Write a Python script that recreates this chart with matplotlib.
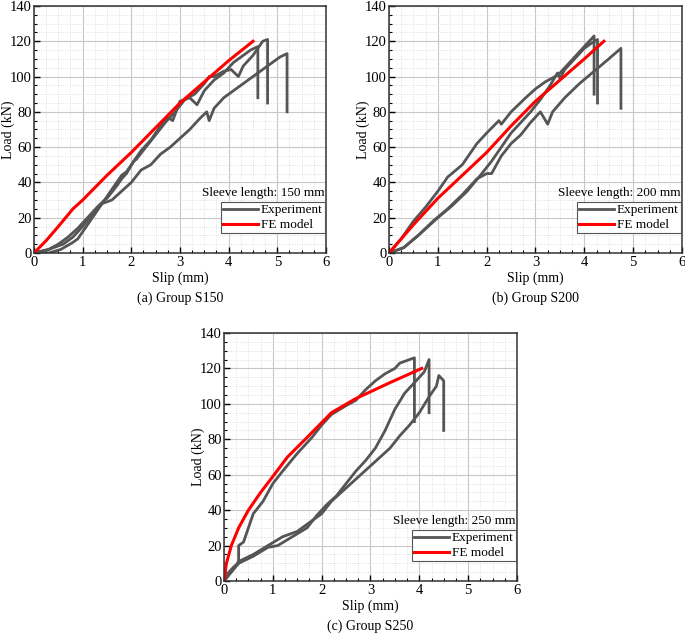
import numpy as np
import matplotlib.pyplot as plt
from matplotlib.ticker import MultipleLocator

plt.rcParams['font.family'] = ['Liberation Serif', 'DejaVu Serif']
plt.rcParams['font.size'] = 9

# ---- Group S150 ----
a_fe_x = [0, 0.25, 0.5, 0.8, 1.0, 1.5, 2.0, 2.5, 3.0, 3.5, 4.0, 4.5]
a_fe_y = [0, 7, 15, 25, 30, 44, 57, 71, 85, 97, 109, 120]
a_e1_x = [0, 0.3, 0.5, 0.7, 0.9, 1.1, 1.3, 1.45, 1.5, 1.7, 1.8, 1.9, 2.05, 2.1, 2.3, 2.5, 2.7, 2.9, 3.1, 3.3, 3.5, 3.6, 3.7, 3.9, 4.05, 4.2, 4.3, 4.5, 4.7, 4.8, 4.8]
a_e1_y = [0, 2, 5, 9, 14, 20, 26, 30, 31, 38, 42, 45, 52, 53, 60, 67, 74, 80, 87, 90, 96, 100, 100, 103, 104, 100, 106, 112, 120, 121, 85]
a_e2_x = [0, 0.3, 0.55, 0.8, 0.9, 1.0, 1.2, 1.4, 1.6, 1.8, 1.9, 2.0, 2.2, 2.4, 2.6, 2.75, 2.85, 3.0, 3.2, 3.35, 3.5, 3.7, 3.9, 4.1, 4.3, 4.45, 4.6, 4.6]
a_e2_y = [0, 0, 2, 6, 8, 12, 20, 28, 36, 44, 46, 50, 58, 64, 72, 77, 75, 86, 88, 84, 92, 98, 102, 108, 112, 115, 117, 88]
a_e3_x = [0, 0.3, 0.6, 0.8, 1.0, 1.2, 1.4, 1.6, 1.8, 2.0, 2.2, 2.4, 2.6, 2.8, 3.0, 3.2, 3.4, 3.55, 3.6, 3.7, 3.9, 4.1, 4.3, 4.5, 4.7, 4.9, 5.05, 5.2, 5.2]
a_e3_y = [0, 2, 5, 9, 15, 22, 28, 30, 35, 40, 47, 50, 56, 60, 65, 70, 76, 80, 75, 82, 88, 92, 96, 100, 104, 108, 111, 113, 80]

# ---- Group S200 ----
b_fe_x = [0, 0.5, 1.0, 1.5, 2.0, 2.5, 3.0, 3.5, 4.0, 4.4]
b_fe_y = [0, 16, 31, 44, 57, 72, 86, 98, 110, 120]
b_e1_x = [0, 0.25, 0.5, 0.75, 1.0, 1.2, 1.5, 1.8, 2.0, 2.25, 2.3, 2.5, 2.8, 3.0, 3.2, 3.4, 3.5, 3.7, 3.9, 4.1, 4.2, 4.2]
b_e1_y = [0, 8, 18, 26, 35, 43, 50, 62, 68, 75, 73, 80, 88, 93, 97, 100, 102, 108, 114, 120, 123, 90]
b_e2_x = [0, 0.3, 0.6, 1.0, 1.3, 1.6, 1.9, 2.1, 2.3, 2.5, 2.7, 2.9, 3.1, 3.3, 3.45, 3.5, 3.6, 3.8, 4.0, 4.15, 4.27, 4.27]
b_e2_y = [0, 3, 10, 20, 27, 35, 45, 52, 60, 68, 74, 80, 87, 95, 102, 99, 104, 110, 116, 119, 121, 85]
b_e3_x = [0, 0.3, 0.6, 0.9, 1.2, 1.5, 1.8, 2.0, 2.1, 2.3, 2.5, 2.7, 2.9, 3.1, 3.25, 3.35, 3.6, 3.9, 4.2, 4.5, 4.75, 4.75]
b_e3_y = [0, 3, 10, 18, 25, 33, 42, 45, 45, 55, 62, 67, 74, 80, 73, 80, 88, 96, 103, 110, 116, 82]

# ---- Group S250 ----
c_fe_x = [0, 0.05, 0.15, 0.3, 0.5, 0.75, 1.0, 1.3, 1.7, 2.2, 2.7, 3.4, 4.05]
c_fe_y = [0, 10, 20, 30, 40, 50, 59, 70, 81, 95, 103, 112, 120]
c_e1_x = [0, 0.1, 0.2, 0.3, 0.3, 0.4, 0.5, 0.6, 0.8, 1.0, 1.2, 1.5, 1.8, 2.0, 2.2, 2.5, 2.7, 2.9, 3.1, 3.3, 3.5, 3.6, 3.8, 3.9, 3.9]
c_e1_y = [0, 5, 8, 10, 20, 22, 30, 38, 45, 55, 62, 72, 81, 88, 94, 99, 102, 108, 113, 117, 120, 123, 125, 126, 90]
c_e2_x = [0, 0.3, 0.6, 0.9, 1.1, 1.4, 1.7, 1.9, 2.1, 2.3, 2.5, 2.7, 2.9, 3.1, 3.3, 3.5, 3.7, 3.9, 4.1, 4.2, 4.2]
c_e2_y = [0, 10, 14, 19, 20, 25, 30, 37, 43, 48, 55, 62, 68, 75, 85, 97, 106, 112, 118, 125, 95]
c_e3_x = [0, 0.3, 0.6, 0.9, 1.2, 1.5, 1.8, 2.0, 2.2, 2.4, 2.6, 2.8, 3.0, 3.2, 3.4, 3.6, 3.8, 4.0, 4.2, 4.35, 4.4, 4.5, 4.5]
c_e3_y = [0, 11, 15, 20, 25, 28, 34, 38, 45, 50, 55, 60, 65, 70, 75, 82, 88, 95, 104, 110, 116, 113, 85]

exp_color = '#555555'
fe_color = '#ff0000'


def draw_panel(rect, exps, fe, sleeve, caption):
    ax = fig.add_axes(rect)
    for ex, ey in exps:
        ax.plot(ex, ey, color=exp_color, lw=2, label='Experiment')
    ax.plot(fe[0], fe[1], color=fe_color, lw=2.2, label='FE model')
    ax.set_xlim(0, 6)
    ax.set_ylim(0, 140)
    ax.xaxis.set_major_locator(MultipleLocator(1))
    ax.xaxis.set_minor_locator(MultipleLocator(0.25))
    ax.yaxis.set_major_locator(MultipleLocator(20))
    ax.yaxis.set_minor_locator(MultipleLocator(5))
    ax.grid(True, which='major', color='#c8c8c8', lw=0.8)
    ax.grid(True, which='minor', color='#d8d8d8', lw=0.6, ls=':')
    ax.set_axisbelow(True)
    ax.tick_params(which='both', direction='in', top=False, right=False, labelsize=10.5)
    ax.tick_params(axis='y', pad=1.5)
    ax.tick_params(axis='x', pad=2.5)
    ax.tick_params(which='major', length=4, width=1)
    ax.tick_params(which='minor', length=2, width=0.8)
    for s in ax.spines.values():
        s.set_linewidth(1.1)
        s.set_color('#333333')
    ax.set_xlabel('Slip (mm)', fontsize=10, labelpad=1.5)
    ax.set_ylabel('Load (kN)', fontsize=10)
    ax.yaxis.set_label_coords(-0.066, 0.5)
    h, l = ax.get_legend_handles_labels()
    leg = ax.legend([h[0], h[-1]], [l[0], l[-1]], loc='lower right', bbox_to_anchor=(1.0, 0.075),
                    frameon=True, fancybox=False, edgecolor='#555555', framealpha=1,
                    handlelength=2.7, borderpad=0.15, labelspacing=0.2, handletextpad=0.2,
                    borderaxespad=0.1, fontsize=9.5)
    leg.get_frame().set_linewidth(0.8)
    ax.text(0.995, 0.243, sleeve, transform=ax.transAxes, ha='right', va='center', fontsize=9.5)
    ax.text(0.5, -0.183, caption, transform=ax.transAxes, ha='center', va='center', fontsize=10)
    return ax


fig = plt.figure(figsize=(6.85, 6.35), dpi=100)

draw_panel([0.0496, 0.6016, 0.4263, 0.389],
           [(a_e1_x, a_e1_y), (a_e2_x, a_e2_y), (a_e3_x, a_e3_y)],
           (a_fe_x, a_fe_y), 'Sleeve length: 150 mm', '(a) Group S150')
draw_panel([0.5679, 0.6016, 0.4277, 0.389],
           [(b_e1_x, b_e1_y), (b_e2_x, b_e2_y), (b_e3_x, b_e3_y)],
           (b_fe_x, b_fe_y), 'Sleeve length: 200 mm', '(b) Group S200')
draw_panel([0.327, 0.085, 0.4277, 0.3906],
           [(c_e1_x, c_e1_y), (c_e2_x, c_e2_y), (c_e3_x, c_e3_y)],
           (c_fe_x, c_fe_y), 'Sleeve length: 250 mm', '(c) Group S250')

fig.savefig('out.png', dpi=100)
